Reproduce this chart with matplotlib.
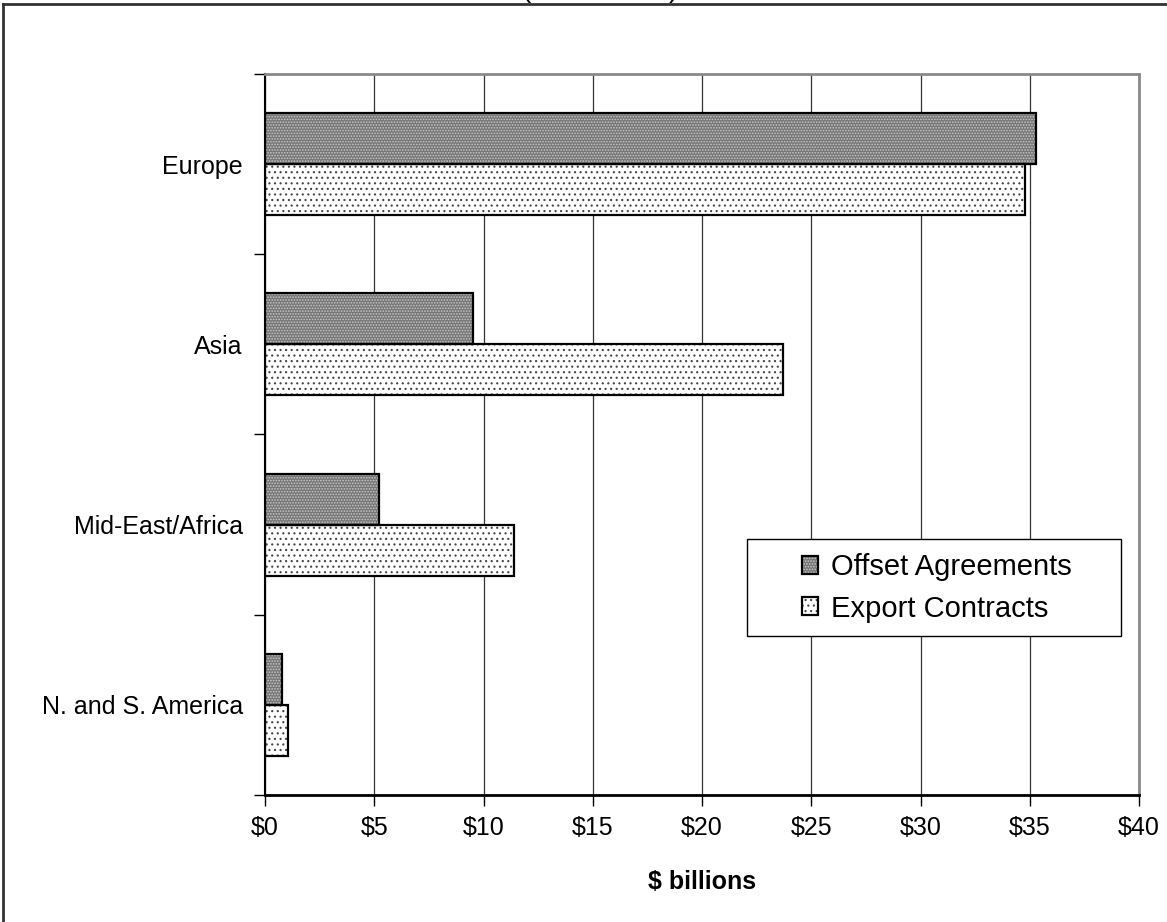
import matplotlib.pyplot as plt
import numpy as np
from matplotlib.lines import Line2D
from matplotlib.patches import Rectangle
from matplotlib.legend_handler import HandlerTuple

# --- dati (miliardi di $) ---
regions = ["Europe", "Asia", "Mid-East/Africa", "N. and S. America"]
offset_agreements = [35.3, 9.5, 5.2, 0.8]
export_contracts = [34.8, 23.7, 11.4, 1.05]
x_ticks = [0, 5, 10, 15, 20, 25, 30, 35, 40]
x_tick_labels = ["$0", "$5", "$10", "$15", "$20", "$25", "$30", "$35", "$40"]

# --- stile ---
FONT = "Liberation Sans"
C_OFFSET = "#767676"
C_OFFSET_HATCH = "#c8c8c8"
C_EXPORT = "white"
C_EXPORT_HATCH = "#444444"
BAR_H = 0.283

plt.rcParams["font.family"] = [FONT, "DejaVu Sans"]
plt.rcParams["hatch.linewidth"] = 0.8

fig = plt.figure(figsize=(11.67, 9.22), dpi=100)
ax = fig.add_axes([265 / 1167, 1 - 795 / 922, 874 / 1167, 721 / 922])

y = np.arange(len(regions))

# riempimento con trama, poi contorno nero sopra
off_fill = ax.barh(y - BAR_H / 2, offset_agreements, height=BAR_H,
                   color=C_OFFSET, hatch="......", edgecolor=C_OFFSET_HATCH,
                   linewidth=0, zorder=2)
off_edge = ax.barh(y - BAR_H / 2, offset_agreements, height=BAR_H,
                   fill=False, edgecolor="black", linewidth=1.6, zorder=3)
exp_fill = ax.barh(y + BAR_H / 2, export_contracts, height=BAR_H,
                   color=C_EXPORT, hatch="...", edgecolor=C_EXPORT_HATCH,
                   linewidth=0, zorder=2)
exp_edge = ax.barh(y + BAR_H / 2, export_contracts, height=BAR_H,
                   fill=False, edgecolor="black", linewidth=1.6, zorder=3)

# --- assi ---
ax.set_xlim(0, 40)
ax.set_ylim(len(regions) - 0.5, -0.5)
ax.set_xticks(x_ticks)
ax.set_xticklabels(x_tick_labels, fontsize=18)
ax.tick_params(axis="x", direction="out", length=8, width=1, pad=7)

ax.set_yticks(np.arange(len(regions) + 1) - 0.5)
ax.set_yticklabels([])
ax.set_yticks(y, minor=True)
ax.set_yticklabels(regions, minor=True, fontsize=18)
ax.tick_params(axis="y", which="major", direction="out", length=8, width=1)
ax.tick_params(axis="y", which="minor", length=0, pad=16)

ax.grid(axis="x", color="#333333", linewidth=0.9)
ax.set_axisbelow(True)

ax.spines["top"].set_color("#8a8a8a")
ax.spines["right"].set_color("#8a8a8a")
ax.spines["top"].set_linewidth(2)
ax.spines["right"].set_linewidth(2)
ax.spines["left"].set_linewidth(1.5)
ax.spines["bottom"].set_linewidth(2)

ax.set_xlabel("$ billions", fontsize=18, fontweight="bold", labelpad=22)

# --- legenda ---
ax.add_patch(Rectangle((482 / 874, (795 - 636) / 721), 374 / 874, 97 / 721,
                       transform=ax.transAxes, facecolor="white",
                       edgecolor="black", linewidth=1, zorder=4))
leg = ax.legend([(off_fill[0], off_edge[0]), (exp_fill[0], exp_edge[0])],
                ["Offset Agreements", "Export Contracts"],
                handler_map={tuple: HandlerTuple(ndivide=1)},
                loc="center left", bbox_to_anchor=(537 / 874, (795 - 588) / 721),
                frameon=False, fontsize=21, borderpad=0, borderaxespad=0,
                handlelength=0.55, handleheight=0.55, handletextpad=0.45,
                labelspacing=0.45)
leg.set_zorder(5)

# --- titolo tagliato in alto e cornice ---
fig.text(0.514, 1 + 3 / 922, "(in $ billions)", fontsize=20,
         ha="center", va="baseline")
fig.add_artist(Line2D([3 / 1167, 1.0], [1 - 4.5 / 922, 1 - 4.5 / 922],
                      transform=fig.transFigure, color="#333333", linewidth=2))
fig.add_artist(Line2D([3 / 1167, 3 / 1167], [0.0, 1 - 4.5 / 922],
                      transform=fig.transFigure, color="#333333", linewidth=2))

fig.savefig("out.png", dpi=100)
